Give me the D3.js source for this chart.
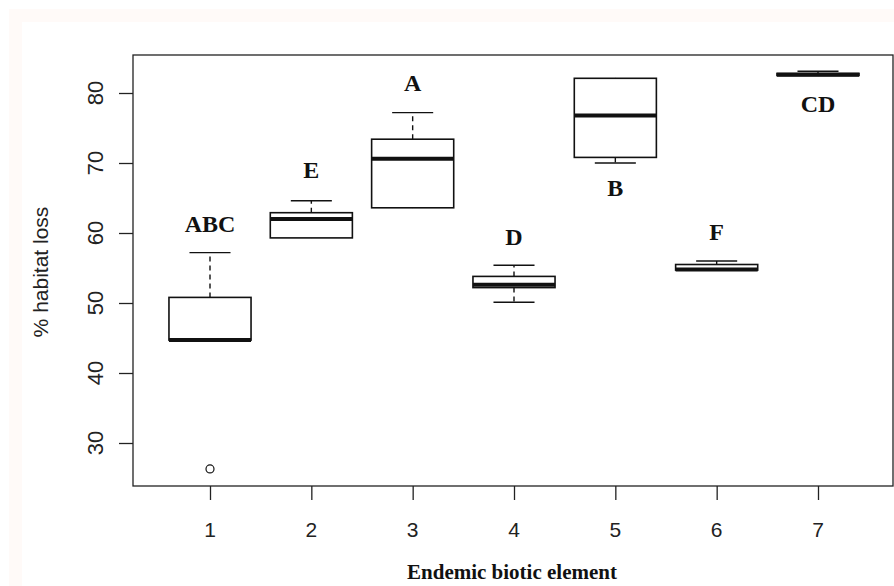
<!DOCTYPE html>
<html><head><meta charset="utf-8">
<script src="https://cdn.jsdelivr.net/npm/d3@7"></script>
<style>body{margin:0;background:#fff}svg{display:block}</style>
</head><body>
<svg id="c" width="894" height="586"></svg>
<script>
const categories = [1,2,3,4,5,6,7];
const whiskerLow  = [44.6, 59.3, 63.6, 50.1, 70.0, 54.7, 82.5];
const q1          = [44.7, 59.3, 63.6, 52.2, 70.8, 54.7, 82.5];
const median      = [44.7, 62.0, 70.6, 52.6, 76.8, 54.8, 82.6];
const q3          = [50.8, 62.9, 73.4, 53.8, 82.1, 55.5, 82.8];
const whiskerHigh = [57.2, 64.6, 77.2, 55.4, 82.1, 56.0, 83.1];
const outliers    = [[26.3], [], [], [], [], [], []];
const letters     = ["ABC","E","A","D","B","F","CD"];
const letterPos   = [60.2, 67.8, 80.3, 58.3, 65.3, 59.0, 77.3];
const yTicks = [30,40,50,60,70,80];

const svg = d3.select("#c");
svg.append("rect").attr("x",9).attr("y",9).attr("width",885).attr("height",577).attr("fill","#fffaf8");
svg.append("rect").attr("x",22).attr("y",22).attr("width",872).attr("height",564).attr("fill","#ffffff");

const L=133, R=893, T=55, B=486;
const x = d3.scaleLinear().domain([1,7]).range([210,818]);
const y = d3.scaleLinear().domain([30,80]).range([443,93]);
const bw = 0.81*(x(2)-x(1));
const cw = bw/2;
const SANS = "Liberation Sans, Arial, sans-serif";
const SERIF = "Liberation Serif, Times New Roman, serif";

svg.append("rect").attr("x",L).attr("y",T).attr("width",R-L).attr("height",B-T)
  .attr("fill","none").attr("stroke","#222").attr("stroke-width",1.3);

const ya = svg.append("g").attr("transform",`translate(${L},0)`)
  .call(d3.axisLeft(y).tickValues(yTicks).tickSize(14).tickSizeOuter(0).tickPadding(0));
ya.select(".domain").remove();
ya.selectAll(".tick line").attr("stroke","#222").attr("stroke-width",1.3);
ya.selectAll(".tick text").remove();
yTicks.forEach(t=>{
  svg.append("text").attr("transform",`translate(103,${y(t)}) rotate(-90)`)
    .attr("text-anchor","middle").attr("font-family",SANS)
    .attr("font-size",22).attr("fill","#222").text(t);
});
svg.append("text").attr("transform",`translate(48,272) rotate(-90)`)
  .attr("text-anchor","middle").attr("font-family",SANS)
  .attr("font-size",21).attr("fill","#222").text("% habitat loss");

const xa = svg.append("g").attr("transform",`translate(0,${B})`)
  .call(d3.axisBottom(x).tickValues(categories).tickSize(14).tickSizeOuter(0).tickPadding(0));
xa.select(".domain").remove();
xa.selectAll(".tick line").attr("stroke","#222").attr("stroke-width",1.3);
xa.selectAll(".tick text").remove();
categories.forEach(c=>{
  svg.append("text").attr("x",x(c)).attr("y",537).attr("text-anchor","middle")
    .attr("font-family",SANS).attr("font-size",21)
    .attr("fill","#222").text(c);
});
svg.append("text").attr("x",512).attr("y",579).attr("text-anchor","middle")
  .attr("font-family",SERIF).attr("font-weight","bold")
  .attr("font-size",21).attr("fill","#111").text("Endemic biotic element");

categories.forEach((c,i)=>{
  const cx = x(c);
  const g = svg.append("g");
  g.append("line").attr("x1",cx).attr("x2",cx).attr("y1",y(q3[i])).attr("y2",y(whiskerHigh[i]))
    .attr("stroke","#111").attr("stroke-width",1.4).attr("stroke-dasharray","5,4");
  g.append("line").attr("x1",cx).attr("x2",cx).attr("y1",y(q1[i])).attr("y2",y(whiskerLow[i]))
    .attr("stroke","#111").attr("stroke-width",1.4).attr("stroke-dasharray","5,4");
  if (whiskerHigh[i] > q3[i])
    g.append("line").attr("x1",cx-cw/2).attr("x2",cx+cw/2).attr("y1",y(whiskerHigh[i])).attr("y2",y(whiskerHigh[i]))
      .attr("stroke","#111").attr("stroke-width",1.4);
  if (whiskerLow[i] < q1[i])
    g.append("line").attr("x1",cx-cw/2).attr("x2",cx+cw/2).attr("y1",y(whiskerLow[i])).attr("y2",y(whiskerLow[i]))
      .attr("stroke","#111").attr("stroke-width",1.4);
  g.append("rect").attr("x",cx-bw/2).attr("y",y(q3[i])).attr("width",bw)
    .attr("height",Math.max(0.5,y(q1[i])-y(q3[i])))
    .attr("fill","#fff").attr("stroke","#111").attr("stroke-width",1.6);
  g.append("line").attr("x1",cx-bw/2).attr("x2",cx+bw/2).attr("y1",y(median[i])).attr("y2",y(median[i]))
    .attr("stroke","#111").attr("stroke-width",4);
  outliers[i].forEach(o=>{
    g.append("circle").attr("cx",cx).attr("cy",y(o)).attr("r",4)
      .attr("fill","none").attr("stroke","#111").attr("stroke-width",1.2);
  });
  svg.append("text").attr("x",cx).attr("y",y(letterPos[i])).attr("text-anchor","middle")
    .attr("font-family",SERIF).attr("font-weight","bold")
    .attr("font-size",24).attr("fill","#111").text(letters[i]);
});
</script>
</body></html>
